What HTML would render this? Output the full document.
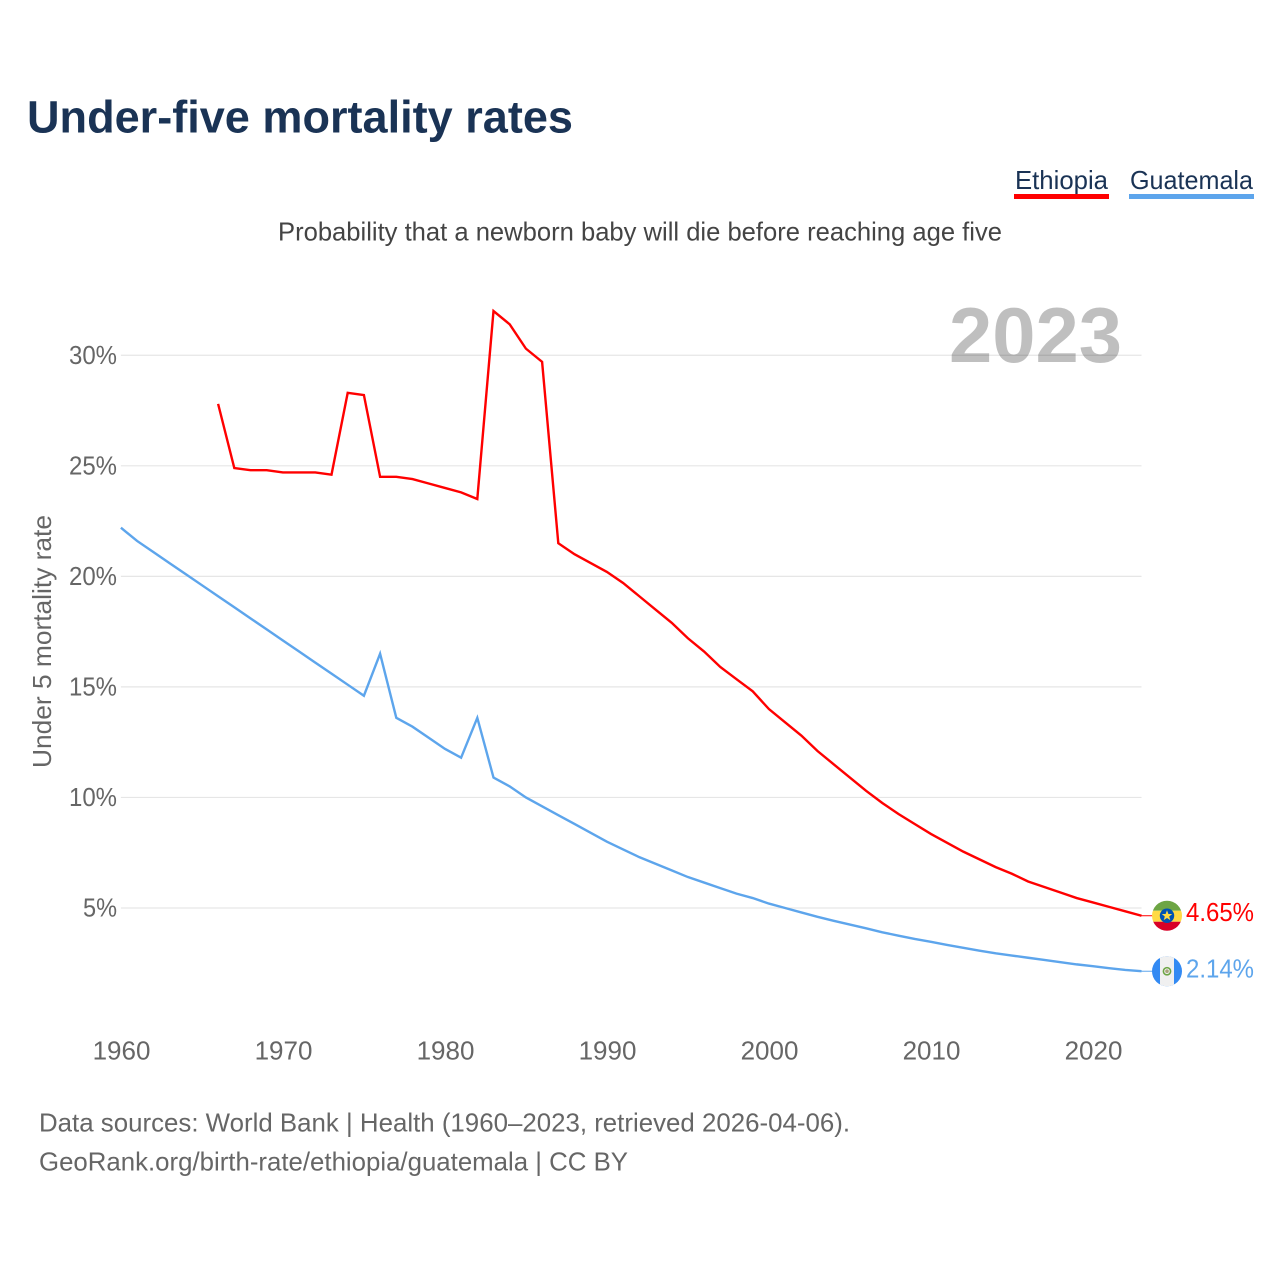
<!DOCTYPE html>
<html lang="en">
<head>
<meta charset="utf-8">
<title>Under-five mortality rates</title>
<style>
html,body{margin:0;padding:0;background:#fff;}
svg{display:block;font-family:"Liberation Sans",Arial,sans-serif;}
</style>
</head>
<body>
<svg id="chart" width="1280" height="1280" viewBox="0 0 1280 1280" xmlns="http://www.w3.org/2000/svg">
  <rect width="1280" height="1280" fill="#fff"/>
  <text x="27" y="132.5" font-size="45" font-weight="700" fill="#1a3355" textLength="546" lengthAdjust="spacingAndGlyphs">Under-five mortality rates</text>

  <g>
    <text x="1015" y="189" font-size="26" fill="#1a3355" textLength="93" lengthAdjust="spacingAndGlyphs">Ethiopia</text>
    <rect x="1014" y="194" width="95" height="5" fill="#ff0000"/>
  </g>
  <g>
    <text x="1130" y="189" font-size="26" fill="#1a3355" textLength="123" lengthAdjust="spacingAndGlyphs">Guatemala</text>
    <rect x="1129" y="194" width="125" height="5" fill="#5da5ec"/>
  </g>

  <text x="278" y="240.5" font-size="26" fill="#444444" textLength="724" lengthAdjust="spacingAndGlyphs">Probability that a newborn baby will die before reaching age five</text>

  <g id="grid"></g>
  <g id="yticks"></g>
  <g id="xticks"></g>

  <text x="949" y="362" font-size="78" font-weight="700" fill="#000000" fill-opacity="0.25" textLength="173" lengthAdjust="spacingAndGlyphs">2023</text>

  <text transform="translate(51,768) rotate(-90)" x="0" y="0" font-size="26" fill="#666666" textLength="253" lengthAdjust="spacingAndGlyphs">Under 5 mortality rate</text>

  <path id="line-ethiopia" fill="none" stroke="#ff0000" stroke-width="2.4" stroke-linejoin="miter"/>
  <path id="line-guatemala" fill="none" stroke="#5da5ec" stroke-width="2.4" stroke-linejoin="miter"/>
  <line id="leader-ethiopia" stroke="#ff0000" stroke-width="1"/>
  <line id="leader-guatemala" stroke="#5da5ec" stroke-width="1"/>

  <defs>
    <clipPath id="clip-eth"><circle cx="0" cy="0" r="15"/></clipPath>
    <clipPath id="clip-gtm"><circle cx="0" cy="0" r="15"/></clipPath>
  </defs>

  <g id="flag-ethiopia">
    <g clip-path="url(#clip-eth)">
      <rect x="-16" y="-16" width="32" height="11" fill="#6da544"/>
      <rect x="-16" y="-5" width="32" height="11" fill="#ffda44"/>
      <rect x="-16" y="6" width="32" height="10" fill="#d80027"/>
    </g>
    <circle cx="0" cy="0" r="7.2" fill="#0052b4"/>
    <polygon points="0,-5.5 1.4,-1.8 5.2,-1.7 2.2,0.7 3.3,4.4 0,2.3 -3.3,4.4 -2.2,0.7 -5.2,-1.7 -1.4,-1.8" fill="#ffda44"/>
  </g>
  <g id="flag-guatemala">
    <g clip-path="url(#clip-gtm)">
      <rect x="-16" y="-16" width="32" height="32" fill="#338af3"/>
      <rect x="-7" y="-16" width="14" height="32" fill="#f0f0f0"/>
    </g>
    <circle cx="0" cy="0" r="3.6" fill="none" stroke="#6da544" stroke-width="1.6"/>
    <circle cx="0" cy="0" r="1.8" fill="#a8a27a"/>
  </g>

  <text id="value-ethiopia" x="1186" y="921" font-size="26" fill="#ff0000" textLength="68" lengthAdjust="spacingAndGlyphs">4.65%</text>
  <text id="value-guatemala" x="1186" y="978" font-size="26" fill="#5da5ec" textLength="68" lengthAdjust="spacingAndGlyphs">2.14%</text>

  <text x="39" y="1131.5" font-size="26" fill="#666666" textLength="811" lengthAdjust="spacingAndGlyphs">Data sources: World Bank | Health (1960–2023, retrieved 2026-04-06).</text>
  <text x="39" y="1170.5" font-size="26" fill="#666666" textLength="589" lengthAdjust="spacingAndGlyphs">GeoRank.org/birth-rate/ethiopia/guatemala | CC BY</text>
</svg>

<script>
const yTickValues = [5, 10, 15, 20, 25, 30];
const xTickValues = [1960, 1970, 1980, 1990, 2000, 2010, 2020];
const ethiopiaStartYear = 1966;
const ethiopiaValues = [27.8,24.9,24.8,24.8,24.7,24.7,24.7,24.6,28.3,28.2,24.5,24.5,24.4,24.2,24.0,23.8,23.5,32.0,31.4,30.3,29.7,21.5,21.0,20.6,20.2,19.7,19.1,18.5,17.9,17.2,16.6,15.9,15.35,14.8,14.0,13.4,12.8,12.1,11.5,10.9,10.3,9.75,9.25,8.8,8.35,7.95,7.55,7.2,6.85,6.55,6.2,5.95,5.7,5.45,5.25,5.05,4.85,4.65];
const guatemalaStartYear = 1960;
const guatemalaValues = [22.2,21.6,21.1,20.6,20.1,19.6,19.1,18.6,18.1,17.6,17.1,16.6,16.1,15.6,15.1,14.6,16.5,13.6,13.2,12.7,12.2,11.8,13.6,10.9,10.5,10.0,9.6,9.2,8.8,8.4,8.0,7.65,7.3,7.0,6.7,6.4,6.15,5.9,5.65,5.45,5.2,5.0,4.8,4.6,4.42,4.25,4.08,3.9,3.75,3.6,3.47,3.33,3.2,3.07,2.95,2.85,2.75,2.65,2.55,2.45,2.37,2.28,2.2,2.14];

const SVG_NS = 'http://www.w3.org/2000/svg';
const xScale = year => 120.9 + (year - 1960) * 16.2;
const yScale = value => 908 - (value - 5) * 22.11;

const grid = document.getElementById('grid');
const yTicks = document.getElementById('yticks');
const xTicks = document.getElementById('xticks');

yTickValues.forEach(value => {
  const y = yScale(value);
  const line = document.createElementNS(SVG_NS, 'line');
  
  
  line.setAttribute('x1', xScale(1960));
  line.setAttribute('x2', xScale(2023));
  line.setAttribute('y1', y);
  line.setAttribute('y2', y);
  line.setAttribute('stroke', '#e6e6e6');
  line.setAttribute('stroke-width', '1.2');
  grid.appendChild(line);

  const label = document.createElementNS(SVG_NS, 'text');
  
  
  label.setAttribute('x', 117);
  label.setAttribute('y', y + 8.5);
  label.setAttribute('text-anchor', 'end');
  label.setAttribute('font-size', '26');
  label.setAttribute('fill', '#666666');
  label.setAttribute('textLength', value >= 10 ? 48 : 34);
  label.setAttribute('lengthAdjust', 'spacingAndGlyphs');
  label.textContent = value + '%';
  yTicks.appendChild(label);
});

xTickValues.forEach(year => {
  const label = document.createElementNS(SVG_NS, 'text');
  
  
  label.setAttribute('x', xScale(year) + 0.6);
  label.setAttribute('y', 1059.5);
  label.setAttribute('text-anchor', 'middle');
  label.setAttribute('font-size', '26');
  label.setAttribute('fill', '#666666');
  label.textContent = year;
  xTicks.appendChild(label);
});

function linePath(startYear, values) {
  return values.map((value, i) =>
    (i ? 'L' : 'M') + xScale(startYear + i).toFixed(2) + ' ' + yScale(value).toFixed(2)
  ).join(' ');
}
document.getElementById('line-ethiopia').setAttribute('d', linePath(ethiopiaStartYear, ethiopiaValues));
document.getElementById('line-guatemala').setAttribute('d', linePath(guatemalaStartYear, guatemalaValues));

const lastEth = ethiopiaValues[ethiopiaValues.length - 1];
const lastGtm = guatemalaValues[guatemalaValues.length - 1];
[['ethiopia', lastEth], ['guatemala', lastGtm]].forEach(([id, value]) => {
  const leader = document.getElementById('leader-' + id);
  leader.setAttribute('x1', xScale(2023));
  leader.setAttribute('x2', 1153);
  leader.setAttribute('y1', yScale(value));
  leader.setAttribute('y2', yScale(value));
});
document.getElementById('flag-ethiopia').setAttribute('transform', 'translate(1167,' + yScale(lastEth) + ')');
document.getElementById('flag-guatemala').setAttribute('transform', 'translate(1167,' + yScale(lastGtm) + ')');
document.getElementById('value-ethiopia').setAttribute('y', yScale(lastEth) + 5.5);
document.getElementById('value-guatemala').setAttribute('y', yScale(lastGtm) + 6.2);
document.getElementById('value-ethiopia').textContent = lastEth.toFixed(2) + '%';
document.getElementById('value-guatemala').textContent = lastGtm.toFixed(2) + '%';
</script>
</body>
</html>
